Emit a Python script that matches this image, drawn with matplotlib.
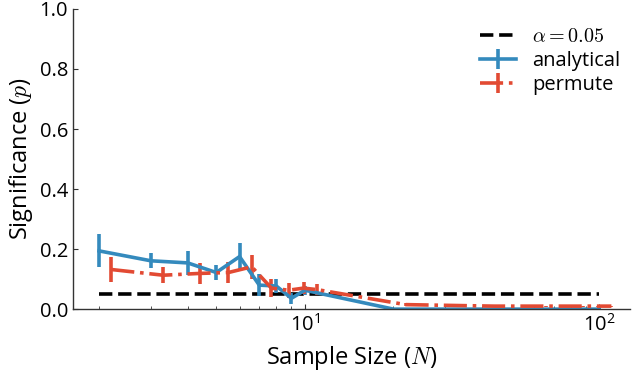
import numpy as np
import matplotlib
matplotlib.use('Agg')
import matplotlib.pyplot as plt

plt.rcParams['font.family'] = ['Open Sans', 'DejaVu Sans']
plt.rcParams['mathtext.fontset'] = 'cm'

# sample sizes and p-values
sample_sizes = [2, 3, 4, 5, 6, 7, 8, 9, 10, 20, 30, 40, 50, 60, 70, 80, 90, 100]
analytical = [0.194, 0.161, 0.154, 0.122, 0.175, 0.080, 0.077, 0.036, 0.063,
              0.0, 0.0, 0.0, 0.0, 0.0, 0.0, 0.0, 0.0, 0.0]
analytical_err = [0.055, 0.025, 0.040, 0.025, 0.045, 0.036, 0.022, 0.018, 0.015,
                  0.0, 0.0, 0.0, 0.0, 0.0, 0.0, 0.0, 0.0, 0.0]
permute = [0.132, 0.113, 0.119, 0.122, 0.141, 0.070, 0.063, 0.070, 0.065,
           0.015, 0.012, 0.010, 0.010, 0.010, 0.010, 0.010, 0.010, 0.010]
permute_err = [0.043, 0.026, 0.036, 0.036, 0.040, 0.030, 0.025, 0.020, 0.018,
               0.004, 0.003, 0.002, 0.002, 0.002, 0.002, 0.002, 0.002, 0.002]
alpha = 0.05
permute_shift = 1.1  # permute points drawn slightly to the right

blue = '#348ABD'
red = '#E24A33'

fig = plt.figure(figsize=(6.4, 3.72), dpi=100)
ax = fig.add_axes([0.114, 0.169, 0.870, 0.807])

N = np.array(sample_sizes)
ax.plot([N[0], N[-1]], [alpha, alpha], '--', color='black', lw=2.6,
        label=r'$\alpha = 0.05$')
ax.errorbar(N, analytical, yerr=analytical_err, color=blue, lw=2.6,
            elinewidth=2.6, capsize=0, label='analytical')
ax.errorbar(N * permute_shift, permute, yerr=permute_err, color=red, lw=2.6,
            elinewidth=2.6, capsize=0, ls='-.', label='permute')

ax.set_xscale('log')
ax.set_xlim(1.63, 127)
ax.set_ylim(0, 1.0)
ax.set_yticks([0.0, 0.2, 0.4, 0.6, 0.8, 1.0])
ax.spines['top'].set_visible(False)
ax.spines['right'].set_visible(False)
for s in ['left', 'bottom']:
    ax.spines[s].set_color('#333333')
    ax.spines[s].set_linewidth(1.0)
ax.tick_params(which='both', direction='in', labelsize=14.5, color='#333333')
ax.tick_params(which='major', length=3.5)
ax.tick_params(which='minor', length=2.5)

ax.set_xlabel(r'Sample Size ($N$)', fontsize=17, labelpad=6)
ax.set_ylabel(r'Significance ($p$)', fontsize=17, labelpad=3)

ax.legend(loc='upper right', frameon=False, fontsize=14.5,
          bbox_to_anchor=(1.015, 1.0), handlelength=1.8, labelspacing=0.2)

fig.savefig('out.png', dpi=100)
